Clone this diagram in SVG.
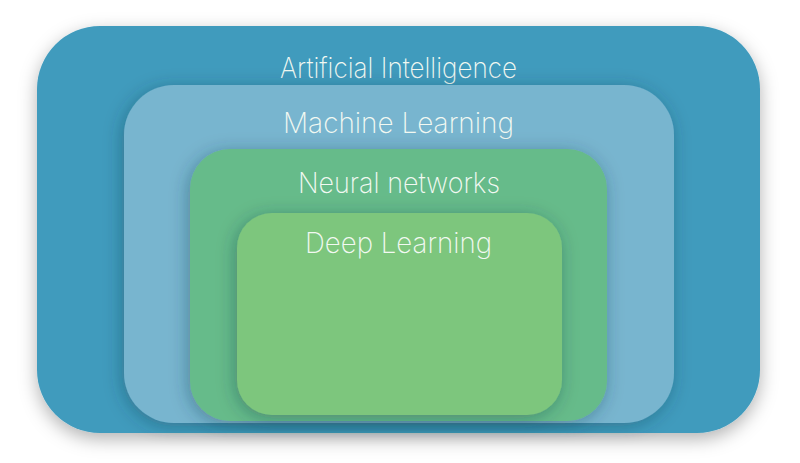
<svg xmlns="http://www.w3.org/2000/svg" width="800" height="463" viewBox="0 0 800 463">
<defs>
<filter id="sh" x="-20%" y="-20%" width="140%" height="150%">
<feDropShadow dx="0" dy="6" stdDeviation="9" flood-color="#000" flood-opacity="0.3"/>
</filter>
<filter id="shi" x="-20%" y="-20%" width="140%" height="150%">
<feDropShadow dx="-2" dy="3" stdDeviation="9" flood-color="#1a3a4a" flood-opacity="0.38"/>
</filter>
</defs>
<style>
text{font-family:"Inter","Noto Sans",sans-serif;font-weight:200;font-size:28px;fill:#F2F9F2;text-anchor:middle}
</style>
<rect width="800" height="463" fill="#fff"/>
<g id="ai">
<rect x="37" y="26" width="723" height="407" rx="63" fill="#409BBD" filter="url(#sh)"/>
<text x="398.5" y="78" textLength="237" lengthAdjust="spacingAndGlyphs">Artificial Intelligence</text>
</g>
<g id="ml">
<rect x="124" y="85" width="550" height="338" rx="50" fill="#78B5CF" filter="url(#shi)"/>
<text x="398.5" y="133" textLength="231" lengthAdjust="spacingAndGlyphs">Machine Learning</text>
</g>
<g id="nn">
<rect x="190" y="149" width="417" height="272" rx="40" fill="#66BB8A" filter="url(#shi)"/>
<text x="399" y="193" textLength="202" lengthAdjust="spacingAndGlyphs">Neural networks</text>
</g>
<g id="dl">
<rect x="237" y="213" width="325" height="202" rx="35" fill="#7DC67D" filter="url(#shi)"/>
<text x="398.5" y="253" textLength="187" lengthAdjust="spacingAndGlyphs">Deep Learning</text>
</g>
<g id="connectors"/>
</svg>
